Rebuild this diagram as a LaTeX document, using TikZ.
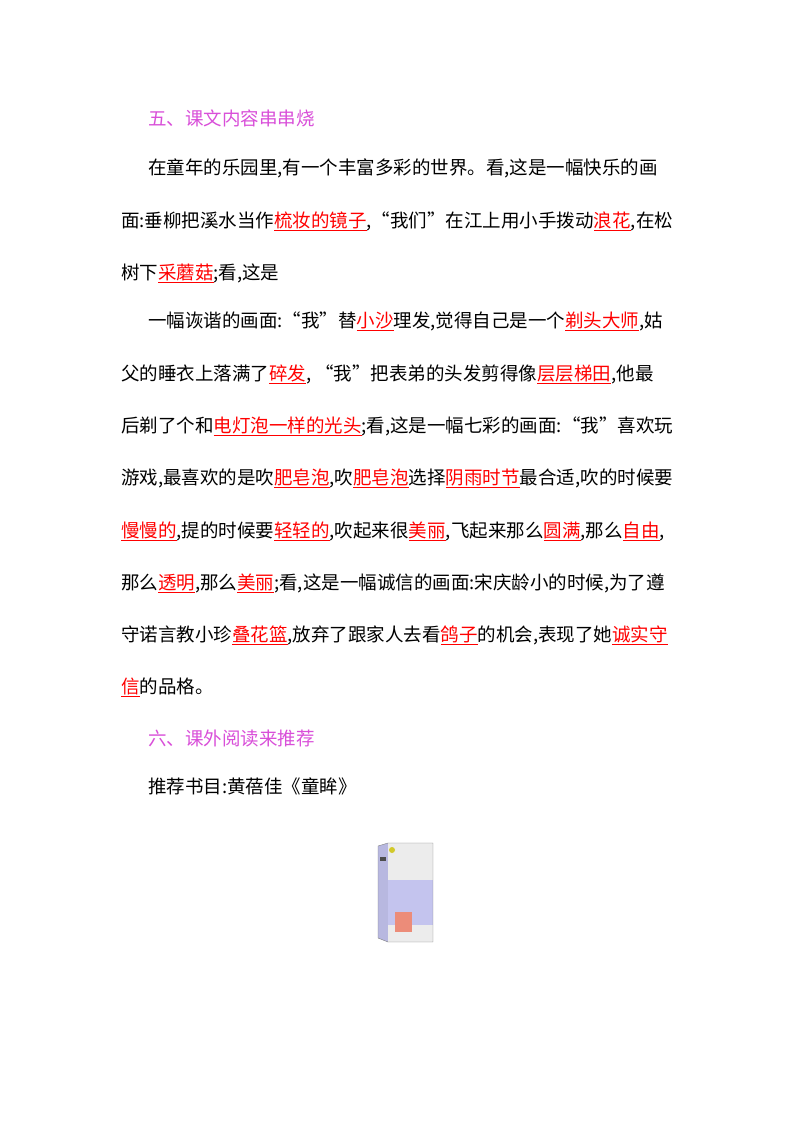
\documentclass[tikz,border=0pt]{standalone}
\usepackage{fontspec}
\setmainfont{Noto Sans CJK SC}
\usepackage{xcolor}
\definecolor{hd}{HTML}{D94FD9}
\newcommand{\ans}[1]{\textcolor{red}{\underline{#1}}}
\tikzset{ln/.style={anchor=base west,inner sep=0pt,font=\fontsize{18.5}{20}\selectfont}}
\begin{document}
\begin{tikzpicture}[x=1pt,y=-1pt]
\useasboundingbox (0,0) rectangle (800,1132);
\fill[white] (0,0) rectangle (800,1132);
\node[ln,text=hd] (h1) at (148,125) {五、课文内容串串烧};
\node[ln] (l1) at (148,174) {在童年的乐园里,有一个丰富多彩的世界。看,这是一幅快乐的画};
\node[ln] (l2) at (121,227) {面:垂柳把溪水当作\ans{梳妆的镜子},“我们”在江上用小手拨动\ans{浪花},在松};
\node[ln] (l3) at (121,279) {树下\ans{采蘑菇};看,这是};
\node[ln] (l4) at (148,327) {一幅诙谐的画面:“我”替\ans{小沙}理发,觉得自己是一个\ans{剃头大师},姑};
\node[ln] (l5) at (121,380) {父的睡衣上落满了\ans{碎发}, “我”把表弟的头发剪得像\ans{层层梯田},他最};
\node[ln] (l6) at (121,432) {后剃了个和\ans{电灯泡一样的光头};看,这是一幅七彩的画面:“我”喜欢玩};
\node[ln] (l7) at (121,484) {游戏,最喜欢的是吹\ans{肥皂泡},吹\ans{肥皂泡}选择\ans{阴雨时节}最合适,吹的时候要};
\node[ln] (l8) at (121,537) {\ans{慢慢的},提的时候要\ans{轻轻的},吹起来很\ans{美丽},飞起来那么\ans{圆满},那么\ans{自由},};
\node[ln] (l9) at (121,589) {那么\ans{透明},那么\ans{美丽};看,这是一幅诚信的画面:宋庆龄小的时候,为了遵};
\node[ln] (l10) at (121,641) {守诺言教小珍\ans{叠花篮},放弃了跟家人去看\ans{鸽子}的机会,表现了她\ans{诚实守}};
\node[ln] (l11) at (121,693) {\ans{信}的品格。};
\node[ln,text=hd] (h2) at (148,745) {六、课外阅读来推荐};
\node[ln] (l12) at (148,793) {推荐书目:黄蓓佳《童眸》};
% book
\fill[gray!60!blue!40] (378,846) -- (388,843) -- (388,942) -- (378,938) -- cycle;
\fill[gray!15] (388,843) rectangle (433,942);
\fill[gray!45!blue!30] (388,880) rectangle (433,925);
\fill[red!50!brown!60] (395,912) rectangle (412,932);
\fill[black!70] (380,857) rectangle (386,861);
\fill[yellow!80!black] (392,850) circle (3);
\draw[gray] (378,846) -- (388,843) -- (433,843) -- (433,942) -- (388,942) -- (378,938) -- cycle;
\end{tikzpicture}
\end{document}
